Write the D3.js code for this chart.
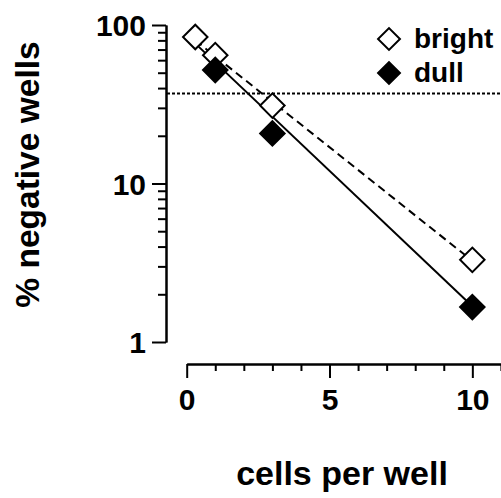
<!DOCTYPE html>
<html>
<head>
<meta charset="utf-8">
<script src="https://cdn.jsdelivr.net/npm/d3@7"></script>
<style>
  body { margin: 0; background: #fff; }
  svg { display: block; font-family: "Liberation Sans", Arial, sans-serif; }
</style>
</head>
<body>
<div id="chart"></div>
<script>
// data
var brightX = [0.3, 1, 3, 10];
var brightY = [84, 64.5, 31, 3.3];
var dullX = [1, 3, 10];
var dullY = [52, 20.7, 1.66];

// fitted lines (end points)
var brightFitX = [0.3, 10];
var brightFitY = [80, 3.25];
var dullFitX = [0, 10];
var dullFitY = [86, 1.68];

var refLine = 37;

var xMajor = [0, 5, 10];
var xMinor = [1, 2, 3, 4, 6, 7, 8, 9, 11];
var yMajor = [1, 10, 100];
var yMinor = [2, 3, 4, 5, 6, 7, 8, 9, 20, 30, 40, 50, 60, 70, 80, 90];

var svgWidth = 501;
var svgHeight = 498;

var svg = d3.select("#chart")
  .append("svg")
  .attr("width", svgWidth)
  .attr("height", svgHeight);

var x = d3.scaleLinear().domain([0, 11]).range([186.7, 500.9]);
var y = d3.scaleLog().domain([1, 100]).range([342, 25]);

var axisX = 166;
var axisY = 364;

// y axis
var yAxisMinor = svg.append("g")
  .attr("transform", `translate(${axisX},0)`)
  .call(d3.axisLeft(y).tickValues(yMinor).tickSize(8).tickSizeOuter(0).tickFormat(""));

var yAxisMajor = svg.append("g")
  .attr("transform", `translate(${axisX},0)`)
  .call(d3.axisLeft(y).tickValues(yMajor).tickSize(14).tickSizeOuter(0).tickPadding(6).tickFormat(d3.format("d")));

// x axis
var xAxisMinor = svg.append("g")
  .attr("transform", `translate(0,${axisY})`)
  .call(d3.axisBottom(x).tickValues(xMinor).tickSize(7).tickSizeOuter(0).tickFormat(""));

var xAxisMajor = svg.append("g")
  .attr("transform", `translate(0,${axisY})`)
  .call(d3.axisBottom(x).tickValues(xMajor).tickSize(14).tickSizeOuter(0).tickPadding(11).tickFormat(d3.format("d")));

svg.selectAll(".domain, .tick line")
  .attr("stroke", "#000")
  .attr("stroke-width", 2);

svg.selectAll(".tick text")
  .attr("font-size", 30)
  .attr("font-weight", "bold")
  .attr("font-family", "'Liberation Sans', Arial, sans-serif")
  .attr("fill", "#000");

yAxisMajor.selectAll(".tick text").attr("dy", "0.35em");

// dotted reference line
svg.append("line")
  .attr("x1", axisX + 1)
  .attr("x2", svgWidth)
  .attr("y1", y(refLine))
  .attr("y2", y(refLine))
  .attr("stroke", "#000")
  .attr("stroke-width", 2)
  .attr("stroke-dasharray", "3,2");

// fit lines
var line = d3.line()
  .x(d => x(d[0]))
  .y(d => y(d[1]));

svg.append("path")
  .attr("d", line(brightFitX.map((v, i) => [v, brightFitY[i]])))
  .attr("fill", "none")
  .attr("stroke", "#000")
  .attr("stroke-width", 2)
  .attr("stroke-dasharray", "8,5");

svg.append("path")
  .attr("d", line(dullFitX.map((v, i) => [v, dullFitY[i]])))
  .attr("fill", "none")
  .attr("stroke", "#000")
  .attr("stroke-width", 2);

// diamonds
var diamond = d3.symbol().type(d3.symbolSquare).size(300);

svg.selectAll(".bright")
  .data(brightX.map((v, i) => [v, brightY[i]]))
  .enter()
  .append("path")
  .attr("class", "bright")
  .attr("d", diamond)
  .attr("transform", d => `translate(${x(d[0])},${y(d[1])}) rotate(45)`)
  .attr("fill", "#fff")
  .attr("stroke", "#000")
  .attr("stroke-width", 2);

svg.selectAll(".dull")
  .data(dullX.map((v, i) => [v, dullY[i]]))
  .enter()
  .append("path")
  .attr("class", "dull")
  .attr("d", diamond)
  .attr("transform", d => `translate(${x(d[0])},${y(d[1])}) rotate(45)`)
  .attr("fill", "#000")
  .attr("stroke", "#000")
  .attr("stroke-width", 2);

// legend
var legend = [
  { label: "bright", fill: "#fff", cy: 39 },
  { label: "dull", fill: "#000", cy: 73 }
];

var legendGroup = svg.append("g");

legendGroup.selectAll("path")
  .data(legend)
  .enter()
  .append("path")
  .attr("d", d3.symbol().type(d3.symbolSquare).size(240))
  .attr("transform", d => `translate(389,${d.cy}) rotate(45)`)
  .attr("fill", d => d.fill)
  .attr("stroke", "#000")
  .attr("stroke-width", 2);

legendGroup.selectAll("text")
  .data(legend)
  .enter()
  .append("text")
  .attr("x", 414)
  .attr("y", d => d.cy + 9)
  .attr("font-size", 28)
  .attr("font-weight", "bold")
  .text(d => d.label);

// axis titles
svg.append("text")
  .attr("x", 342)
  .attr("y", 485)
  .attr("text-anchor", "middle")
  .attr("font-size", 34)
  .attr("font-weight", "bold")
  .text("cells per well");

svg.append("text")
  .attr("transform", "rotate(-90)")
  .attr("x", -174.5)
  .attr("y", 39)
  .attr("text-anchor", "middle")
  .attr("font-size", 33.5)
  .attr("font-weight", "bold")
  .text("% negative wells");
</script>
</body>
</html>
